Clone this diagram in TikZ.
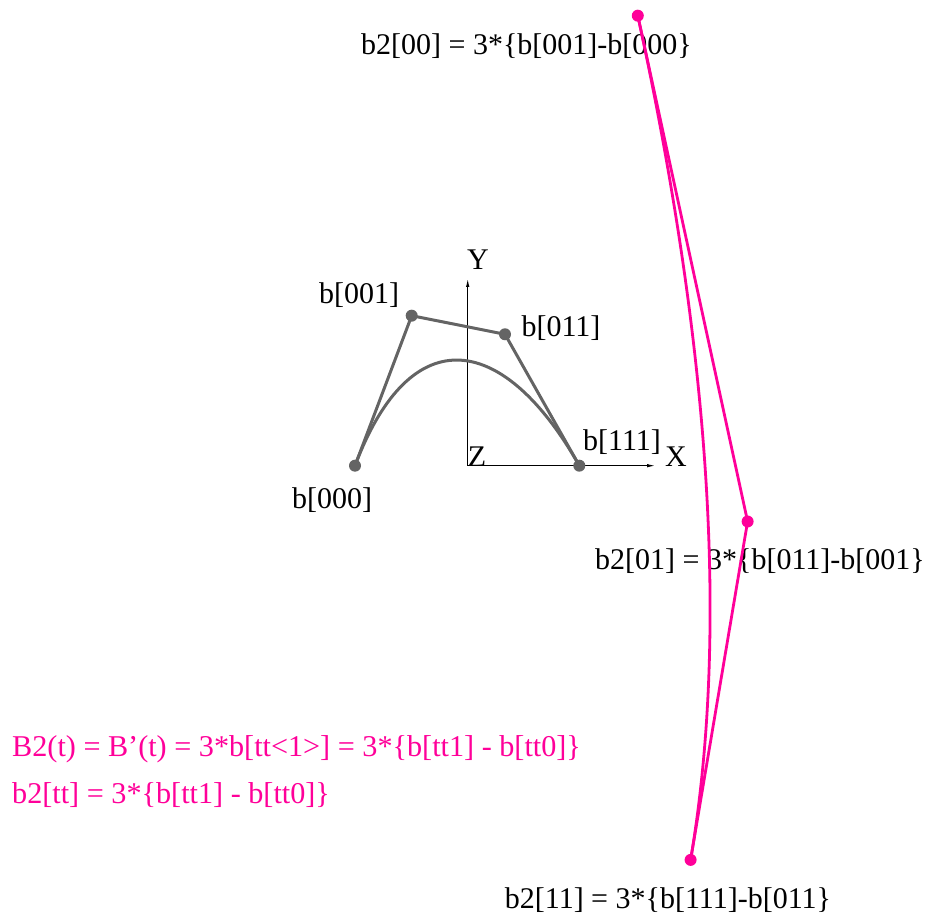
\documentclass[tikz,border=0pt]{standalone}
\usepackage{fontspec}
\setmainfont{Liberation Serif}
\usetikzlibrary{calc,arrows.meta}
\definecolor{pk}{RGB}{255,0,153}
\definecolor{gr}{RGB}{100,100,100}
\begin{document}
\begin{tikzpicture}[x=1pt,y=1pt,
  lbl/.style={inner sep=0pt,font=\fontsize{30}{35}\selectfont},
  plbl/.style={inner sep=0pt,text=pk,font=\fontsize{30.2}{36}\selectfont},
  ctrl/.style={gr,line width=3pt,line join=round},
  hodo/.style={pk,line width=2.8pt,line join=round},
  gdot/.style={circle,fill=gr,inner sep=0pt,minimum size=12pt},
  pdot/.style={circle,fill=pk,inner sep=0pt,minimum size=12pt},
  axisline/.style={line width=1.3pt,-{Latex[length=9pt,width=3.5pt]}}]
\useasboundingbox (0,0) rectangle (927,917);
% control points (pixel coords, y up)
\coordinate (O) at (467.7,451.3);
\coordinate (c0) at (355,451.3);
\coordinate (c1) at (411.7,601.3);
\coordinate (c2) at (505,582.7);
\coordinate (c3) at (579.3,451.3);
% hodograph points
\coordinate (h0) at ($(O)+3*(c1)-3*(c0)$);
\coordinate (h1) at ($(O)+3*(c2)-3*(c1)$);
\coordinate (h2) at ($(O)+3*(c3)-3*(c2)$);
% axes
\coordinate (ytip) at (467.7,639);
\coordinate (xtip) at (656,451.3);
\draw[axisline] (O) -- (ytip);
\draw[axisline] (O) -- (xtip);
\node[lbl] (ylab) at (478,657) {Y};
\node[lbl] (xlab) at (676,460) {X};
\node[lbl] (zlab) at (477,460) {Z};
% cubic curve
\draw[ctrl] (c0) -- (c1) -- (c2) -- (c3);
\draw[ctrl] (c0) .. controls (c1) and (c2) .. (c3);
\node[gdot] (n0) at (c0) {};
\node[gdot] (n1) at (c1) {};
\node[gdot] (n2) at (c2) {};
\node[gdot] (n3) at (c3) {};
\node[lbl] (l0) at (332,417) {b[000]};
\node[lbl] (l1) at (359,622) {b[001]};
\node[lbl] (l2) at (561,589) {b[011]};
\node[lbl] (l3) at (622,475) {b[111]};
% hodograph labels
\node[lbl] (m0) at (526.5,871) {b2[00] = 3*\{b[001]-b[000\}};
\node[lbl] (m1) at (760,356) {b2[01] = 3*\{b[011]-b[001\}};
\node[lbl] (m2) at (668,17) {b2[11] = 3*\{b[111]-b[011\}};
% hodograph
\draw[hodo] (h0) -- (h1) -- (h2);
\draw[hodo] (h0) .. controls ($(h0)!2/3!(h1)$) and ($(h2)!2/3!(h1)$) .. (h2);
\node[pdot] (p0) at (h0) {};
\node[pdot] (p1) at (h1) {};
\node[pdot] (p2) at (h2) {};
% formulas
\node[plbl,anchor=west] (f1) at (12,168) {B2(t) = B’(t) = 3*b[tt<1>] = 3*\{b[tt1] - b[tt0]\}};
\node[plbl,anchor=west] (f2) at (12,122) {b2[tt] = 3*\{b[tt1] - b[tt0]\}};
\end{tikzpicture}
\end{document}
